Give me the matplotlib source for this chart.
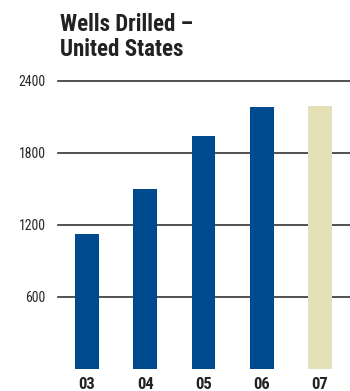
import matplotlib
matplotlib.use("Agg")
import matplotlib.pyplot as plt

years = ["03", "04", "05", "06", "07"]
wells = [1125, 1500, 1945, 2185, 2195]
bar_colors = ["#004a8f", "#004a8f", "#004a8f", "#004a8f", "#e4e0b8"]
y_ticks = [600, 1200, 1800, 2400]

FONT = ["Roboto Condensed", "DejaVu Sans"]

fig = plt.figure(figsize=(3.5, 3.91), dpi=100)
ax = fig.add_axes([58 / 350, 22 / 391, 292 / 350, 288 / 391])

x = list(range(len(years)))
ax.bar(x, wells, width=0.41, color=bar_colors, zorder=3)

for t in y_ticks:
    ax.axhline(t, color="#333333", lw=1.2, zorder=1, clip_on=False)

ax.set_ylim(0, 2400)
ax.set_xlim(-0.498, 4.515)
ax.set_yticks(y_ticks)
ax.set_yticklabels([str(t) for t in y_ticks], family=FONT, fontsize=10, color="#2a2a2a")
ax.set_xticks(x)
ax.set_xticklabels(years, family=FONT, fontsize=12, fontweight="bold", color="#222222")
ax.tick_params(axis="y", length=0, pad=9)
ax.tick_params(axis="x", length=0, pad=6)
for s in ax.spines.values():
    s.set_visible(False)

fig.text(60 / 350, 1 - 13 / 391, "Wells Drilled \u2013\nUnited States",
         family=FONT, fontsize=16.5, fontweight="bold", color="#222222",
         va="top", ha="left", linespacing=1.1)

fig.savefig("out.png", dpi=100)
